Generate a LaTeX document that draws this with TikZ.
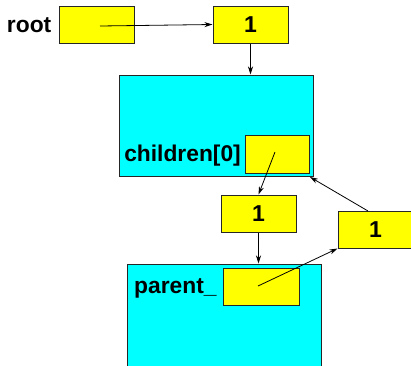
\documentclass[tikz,border=0pt]{standalone}
\usepackage{fontspec}
\setmainfont{Liberation Sans}
\usetikzlibrary{arrows.meta}
\definecolor{cy}{RGB}{0,255,255}
\definecolor{ye}{RGB}{255,255,0}
\begin{document}
\begin{tikzpicture}[x=1pt,y=-1pt,
  ybox/.style={draw=black!85,fill=ye,line width=1pt,minimum width=75pt,minimum height=37pt,inner sep=0pt,font=\fontsize{23}{27}\selectfont\bfseries},
  cbox/.style={draw=black!85,fill=cy,line width=1pt,minimum width=194pt,minimum height=101pt,inner sep=0pt},
  lbl/.style={inner sep=0pt,font=\fontsize{22.8}{27}\selectfont\bfseries},
  ptr/.style={line width=0.8pt,-{Stealth[length=8pt,width=5pt,inset=2.5pt]}}]
\useasboundingbox (0,0) rectangle (411,365);
\clip (0,0) rectangle (411,365);
\node[ybox] (root) at (96.5,24.5) {};
\node[lbl,anchor=east] (rootl) at (51.5,25) {root};
\node[ybox] (top) at (250.5,24.5) {1};
\node[cbox] (c1) at (216,125.5) {};
\node[ybox,minimum width=64pt,minimum height=38pt] (ch) at (277,154) {};
\node[lbl,anchor=east] (chl) at (241,156) {children[0]};
\node[ybox] (mid) at (258.5,213.5) {1};
\node[cbox,minimum height=104pt] (c2) at (224.5,316) {};
\node[ybox,minimum width=76pt] (par) at (261,286.5) {};
\node[lbl,anchor=west] (parl) at (134,288) {parent\_};
\node[ybox] (rt) at (375.5,229.5) {1};
\coordinate (rs) at (100,26);
\coordinate (cs) at (275,152);
\coordinate (ps) at (258,286);
\coordinate (rts) at (368,211);
\coordinate (ce) at (310,177);
\draw[ptr] (rs) -- (root.east -| top.west);
\draw[ptr] (top.south) -- (top.south |- c1.north);
\draw[ptr] (cs) -- (mid.north);
\draw[ptr] (mid.south) -- (mid.south |- c2.north);
\draw[ptr] (ps) -- (rt.south west);
\draw[ptr] (rts) -- (ce);
\end{tikzpicture}
\end{document}
